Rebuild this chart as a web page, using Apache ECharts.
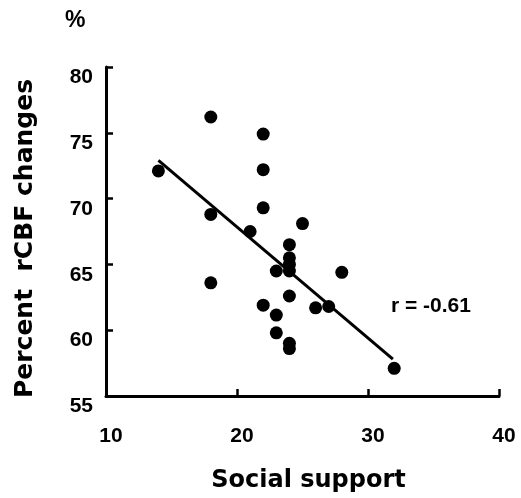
<!DOCTYPE html>
<html>
<head>
<meta charset="utf-8">
<script src="https://cdn.jsdelivr.net/npm/echarts@6/dist/echarts.min.js"></script>
<style>
  html, body { margin: 0; padding: 0; background: #fff; }
  #myChart { width: 521px; height: 498px; }
</style>
</head>
<body>
<div id="myChart"></div>
<script>
// social support score vs percent rCBF change
const socialSupport = [14, 18, 18, 18, 21, 22, 22, 22, 22, 23, 23, 23, 24, 24, 24, 24, 24, 24, 24, 25, 26, 27, 28, 32];
const rcbfChange = [72.1, 76.2, 68.8, 63.6, 67.5, 74.9, 72.2, 69.3, 61.9, 64.5, 61.15, 59.8, 66.5, 65.5, 65.0, 64.5, 62.6, 59.0, 58.6, 68.1, 61.7, 61.8, 64.4, 57.1];
// regression line ends
const fitX = [14, 31.9];
const fitY = [72.9, 57.8];

const font = '"Liberation Sans", Arial, sans-serif';
const wideFont = '"DejaVu Sans", sans-serif';

let myChart = echarts.init(document.getElementById('myChart'));
let option = {
  backgroundColor: '#fff',
  animation: false,
  grid: { left: 106, right: 22, top: 67, bottom: 98 },
  xAxis: {
    type: 'value',
    min: 10, max: 40, interval: 10,
    name: 'Social support',
    nameLocation: 'middle',
    nameGap: 73,
    nameTextStyle: { fontFamily: wideFont, fontWeight: 'bold', fontSize: 24, color: '#000', padding: [0, 0, 0, 12] },
    axisLine: { lineStyle: { color: '#000', width: 3 } },
    axisTick: { inside: true, length: 7, lineStyle: { color: '#000', width: 2.5 } },
    axisLabel: { margin: 30, color: '#000', fontFamily: font, fontWeight: 'bold', fontSize: 21, padding: [0, 0, 0, 10] },
    splitLine: { show: false }
  },
  yAxis: {
    type: 'value',
    min: 55, max: 80, interval: 5,
    name: 'Percent  rCBF changes',
    nameLocation: 'middle',
    nameGap: 68,
    nameRotate: 90,
    nameTextStyle: { fontFamily: wideFont, fontWeight: 'bold', fontSize: 25, color: '#000', padding: [0, 14, 0, 0] },
    axisLine: { show: true, lineStyle: { color: '#000', width: 3 } },
    axisTick: { show: true, inside: true, length: 7, lineStyle: { color: '#000', width: 2.5 } },
    axisLabel: { margin: 13, color: '#000', fontFamily: font, fontWeight: 'bold', fontSize: 21, verticalAlign: 'top' },
    splitLine: { show: false }
  },
  graphic: [
    { type: 'text', left: 65, top: 9, style: { text: '%', fill: '#000', font: 'bold 23px ' + font } },
    { type: 'text', left: 391, top: 296, style: { text: 'r = -0.61', fill: '#000', font: 'bold 21px ' + font } }
  ],
  series: [
    {
      type: 'scatter',
      data: socialSupport.map((x, i) => [x, rcbfChange[i]]),
      symbolSize: 13,
      itemStyle: { color: '#000', opacity: 1 }
    },
    {
      type: 'line',
      data: fitX.map((x, i) => [x, fitY[i]]),
      showSymbol: false,
      lineStyle: { color: '#000', width: 3 }
    }
  ]
};
myChart.setOption(option);
</script>
</body>
</html>
